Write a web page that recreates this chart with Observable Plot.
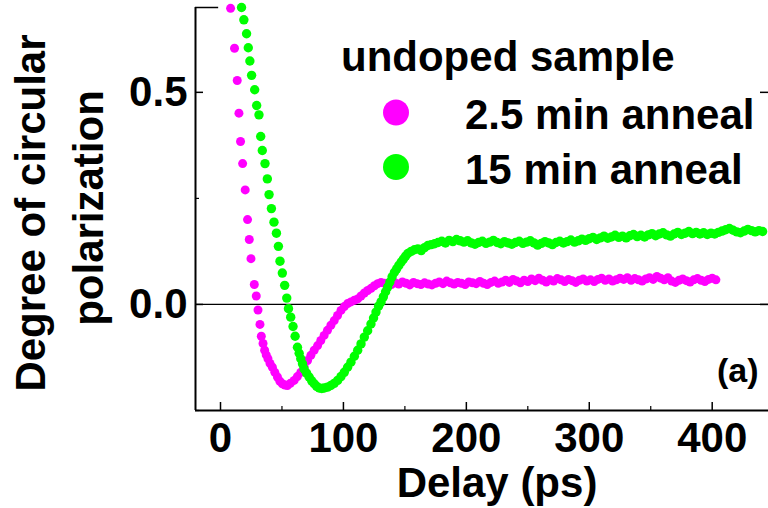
<!DOCTYPE html>
<html><head><meta charset="utf-8">
<script src="https://cdn.jsdelivr.net/npm/d3@7"></script>
<script src="https://cdn.jsdelivr.net/npm/@observablehq/plot@0.6"></script>
<style>html,body{margin:0;padding:0;background:#fff}svg{display:block}</style>
</head><body><div id="chart"></div>
<script>
// ---- data ----
const magentaX = [8.2,11.4,13.6,15.0,16.3,18.0,20.1,22.0,23.4,24.8,27.5,29.1,30.5,32.1,33.2,34.6,35.9,37.2,38.6,40.3,42.2,44.2,46.3,48.3,50.3,52.4,54.4,56.8,59.9,62.5,65.3,68.0,70.8,73.5,76.2,79.0,81.6,84.3,87.0,89.8,92.5,95.2,98.0,100.7,103.4,106.1,108.9,111.6,114.3,117.0,119.7,122.5,125.2,127.9,130.6,133.4,
136,139,142,145,148,151,154,157,160,163,166,169,172,175,178,181,184,187,190,193,196,199,202,205,208,211,214,217,220,223,226,229,232,235,238,241,244,247,250,253,256,259,262,265,268,271,274,277,280,283,286,289,292,295,298,301,304,307,310,313,316,319,322,325,328,331,334,337,340,343,346,349,352,355,358,361,364,367,370,373,376,379,382,385,388,391,394,397,400,403];
const magentaY = [0.698,0.604,0.528,0.451,0.384,0.332,0.270,0.200,0.153,0.108,0.047,0.020,-0.013,-0.047,-0.075,-0.092,-0.108,-0.119,-0.128,-0.139,-0.148,-0.160,-0.171,-0.181,-0.187,-0.190,-0.191,-0.186,-0.179,-0.170,-0.160,-0.146,-0.132,-0.120,-0.108,-0.097,-0.085,-0.073,-0.061,-0.049,-0.038,-0.026,-0.014,-0.005,0.002,0.006,0.010,0.013,0.020,0.027,0.033,0.038,0.044,0.049,0.052,0.050,
0.049,0.047,0.051,0.048,0.053,0.050,0.046,0.052,0.049,0.047,0.051,0.048,0.046,0.050,0.053,0.049,0.055,0.051,0.048,0.052,0.050,0.047,0.053,0.051,0.049,0.054,0.050,0.047,0.052,0.055,0.050,0.053,0.057,0.052,0.059,0.055,0.051,0.057,0.054,0.060,0.056,0.062,0.057,0.053,0.058,0.055,0.061,0.058,0.054,0.059,0.056,0.052,0.057,0.060,0.055,0.058,0.054,0.059,0.062,0.057,0.060,0.055,0.058,0.062,0.059,0.063,0.057,0.061,0.058,0.055,0.060,0.063,0.059,0.066,0.062,0.058,0.063,0.055,0.052,0.057,0.060,0.056,0.053,0.058,0.061,0.057,0.054,0.059,0.062,0.058];

const greenX = [17.1,19.0,21.2,22.6,23.9,25.3,27.8,29.4,31.3,32.7,34.0,36.2,38.1,39.5,41.4,43.5,45.5,47.1,48.4,50.3,52.2,53.9,55.3,57.1,59.0,60.7,62.6,64.0,65.3,66.7,68.0,70.0,72.1,74.2,76.2,78.2,80.3,82.4,84.4,87.0,89.8,92.5,95.3,98.0,100.7,103.4,106.1,108.9,111.6,114.3,117.0,119.7,122.4,124.5,126.5,128.6,130.6,132.5,134.3,136.0,137.8,139.6,141.5,143.3,145.1,147.0,148.8,150.6,152.4,155.1,157.8,160.5,163.3,166.0,168.7,171.4,174.2,
177,180,183,186,189,192,195,198,201,204,207,210,213,216,219,222,225,228,231,234,237,240,243,246,249,252,255,258,261,264,267,270,273,276,279,282,285,288,291,294,297,300,303,306,309,312,315,318,321,324,327,330,333,336,339,342,345,348,351,354,357,360,363,366,369,372,375,378,381,384,387,390,393,396,399,402,405,408,411,414,417,420,423,426,429,432,435,438,441];
const greenY = [0.700,0.671,0.638,0.605,0.574,0.540,0.506,0.469,0.447,0.396,0.363,0.332,0.296,0.259,0.226,0.194,0.168,0.137,0.102,0.074,0.045,0.015,-0.010,-0.030,-0.052,-0.075,-0.101,-0.115,-0.128,-0.140,-0.152,-0.162,-0.171,-0.180,-0.187,-0.193,-0.197,-0.198,-0.197,-0.195,-0.191,-0.186,-0.179,-0.170,-0.160,-0.148,-0.136,-0.122,-0.108,-0.093,-0.077,-0.062,-0.046,-0.032,-0.018,-0.004,0.006,0.018,0.030,0.041,0.053,0.065,0.076,0.084,0.092,0.100,0.107,0.114,0.120,0.125,0.129,0.131,0.127,0.134,0.139,0.141,0.143,
0.146,0.149,0.145,0.151,0.148,0.153,0.150,0.147,0.150,0.145,0.142,0.146,0.149,0.144,0.147,0.151,0.146,0.143,0.148,0.145,0.142,0.146,0.149,0.144,0.147,0.150,0.145,0.140,0.144,0.148,0.145,0.141,0.146,0.149,0.145,0.148,0.152,0.147,0.150,0.154,0.151,0.155,0.158,0.153,0.157,0.161,0.156,0.159,0.163,0.158,0.161,0.157,0.162,0.165,0.160,0.163,0.159,0.164,0.167,0.162,0.166,0.169,0.164,0.161,0.166,0.170,0.165,0.168,0.172,0.167,0.170,0.166,0.169,0.165,0.168,0.166,0.170,0.173,0.176,0.179,0.175,0.171,0.169,0.173,0.177,0.174,0.171,0.174,0.172];

const seriesNames = ["2.5 min anneal", "15 min anneal"];
const seriesColors = ["#ff00ff", "#00ff00"];
const legendTitle = "undoped sample";
const xTicks = [0, 100, 200, 300, 400];
const xMinorTicks = [50, 150, 250, 350];
const yTicks = [0, 0.5];
const yMinorTicks = [-0.25, 0.25];
const xLabel = "Delay (ps)";
const yLabelLines = ["Degree of circular", "polarization"];
const panelLabel = "(a)";

// ---- layout ----
const W = 768, H = 508, mL = 195, mR = 0, mT = 7, mB = 98;
const xDomain = [-20.34, 445.8], yDomain = [-0.25, 0.70];
const plotW = W - mL - mR, plotH = H - mT - mB;
const FONT = "'Liberation Sans', Arial, Helvetica, sans-serif";

const magenta = magentaX.map((x, i) => ({x, y: magentaY[i]}));
const green = greenX.map((x, i) => ({x, y: greenY[i]}));

const svg = Plot.plot({
  width: W, height: H,
  marginLeft: mL, marginRight: mR, marginTop: mT, marginBottom: mB,
  x: {domain: xDomain},
  y: {domain: yDomain},
  style: {fontFamily: FONT, fontWeight: "bold", background: "#fff", color: "#000", overflow: "visible"},
  marks: [
    Plot.ruleY([0], {stroke: "#000", strokeWidth: 1.3}),
    Plot.dot(magenta, {x: "x", y: "y", r: 4.5, fill: seriesColors[0], stroke: "none"}),
    Plot.dot(green, {x: "x", y: "y", r: 4.7, fill: seriesColors[1], stroke: "none"}),
    // frame lines
    Plot.ruleX([xDomain[0]], {stroke: "#000", strokeWidth: 2}),
    Plot.ruleY([yDomain[0]], {stroke: "#000", strokeWidth: 2}),
    Plot.ruleY([yDomain[1]], {x1: xDomain[0], x2: -1.5, stroke: "#000", strokeWidth: 1.5}),
    // inward ticks
    Plot.tickX(xTicks, {x: d => d, insetTop: plotH - 8, stroke: "#000", strokeWidth: 1.5}),
    Plot.tickX(xMinorTicks, {x: d => d, insetTop: plotH - 4, stroke: "#000", strokeWidth: 1.2}),
    Plot.tickY(yTicks, {y: d => d, insetRight: plotW - 8, stroke: "#000", strokeWidth: 1.5}),
    Plot.tickY(yMinorTicks, {y: d => d, insetRight: plotW - 4, stroke: "#000", strokeWidth: 1.2}),
    Plot.tickY(yTicks, {y: d => d, insetLeft: plotW - 8, stroke: "#000", strokeWidth: 1.5}),
    Plot.axisX(xTicks, {tickSize: 0, tickPadding: 12, fontSize: 42, fontWeight: "bold", tickFormat: d => String(d), label: null, fill: "#000"}),
    Plot.axisY(yTicks, {tickSize: 0, tickPadding: 8, fontSize: 42, fontWeight: "bold", tickFormat: d => d.toFixed(1), label: null, fill: "#000"})
  ]
});

const s = d3.select(svg);
const txt = (x, y, t, size, anchor = "start", rot = 0) => {
  const el = s.append("text")
    .attr("transform", `translate(${x},${y})` + (rot ? ` rotate(${rot})` : ""))
    .attr("text-anchor", anchor)
    .attr("font-family", FONT).attr("font-weight", "bold")
    .attr("font-size", size).attr("fill", "#000")
    .text(t);
  return el;
};
// axis titles
txt(497, 497, xLabel, 42, "middle");
txt(45, 213, yLabelLines[0], 42, "middle", -90);
txt(103, 208, yLabelLines[1], 42, "middle", -90);
// legend
txt(341, 71, legendTitle, 42);
s.append("circle").attr("cx", 396).attr("cy", 112.5).attr("r", 13).attr("fill", seriesColors[0]);
s.append("circle").attr("cx", 396).attr("cy", 167).attr("r", 13).attr("fill", seriesColors[1]);
txt(465, 128.5, seriesNames[0], 42);
txt(465, 183.5, seriesNames[1], 42);
// panel label
txt(717, 382, panelLabel, 34);

document.getElementById("chart").appendChild(svg);
</script>
</body></html>
